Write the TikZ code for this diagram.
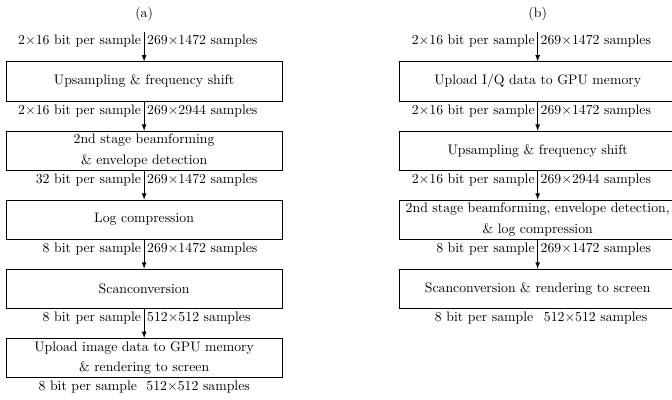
\documentclass[tikz,border=0pt]{standalone}
\usepackage{tikz}
\usetikzlibrary{arrows, positioning}

\begin{document}
\begin{tikzpicture}[
    stage/.style={draw, semithick, rectangle, minimum width=7.05cm, minimum height=1.0cm, align=center, inner sep=0pt},
    info/.style={inner sep=2pt},
    flow/.style={-latex, semithick}]
  \useasboundingbox (0,0) rectangle (17.16,-10.19);

  % (a) pipeline
  \node (tita) at (3.68,-0.36) {(a)};
  \coordinate (ina) at (3.68,-0.82);
  \node[stage] (a1) at (3.68,-2.08) {Upsampling \& frequency shift};
  \node[stage] (a2) at (3.68,-3.85) {2nd stage beamforming\\[3pt] \& envelope detection};
  \node[stage] (a3) at (3.68,-5.61) {Log compression};
  \node[stage] (a4) at (3.68,-7.37) {Scanconversion};
  \node[stage] (a5) at (3.68,-9.14) {Upload image data to GPU memory\\[3pt] \& rendering to screen};

  \draw[flow] (ina) -- (a1);
  \draw[flow] (a1) -- (a2);
  \draw[flow] (a2) -- (a3);
  \draw[flow] (a3) -- (a4);
  \draw[flow] (a4) -- (a5);

  \node[info, anchor=north east] (ia0l) at (ina) {2$\times$16 bit per sample};
  \node[info, anchor=north west] (ia0r) at (ina) {269$\times$1472 samples};
  \node[info, anchor=north east] (ia1l) at (a1.south) {2$\times$16 bit per sample};
  \node[info, anchor=north west] (ia1r) at (a1.south) {269$\times$2944 samples};
  \node[info, anchor=north east] (ia2l) at (a2.south) {32 bit per sample};
  \node[info, anchor=north west] (ia2r) at (a2.south) {269$\times$1472 samples};
  \node[info, anchor=north east] (ia3l) at (a3.south) {8 bit per sample};
  \node[info, anchor=north west] (ia3r) at (a3.south) {269$\times$1472 samples};
  \node[info, anchor=north east] (ia4l) at (a4.south) {8 bit per sample};
  \node[info, anchor=north west] (ia4r) at (a4.south) {512$\times$512 samples};
  % output of the last stage, no arrow
  \node[info, anchor=north east, xshift=-3pt] (ia5l) at (a5.south) {8 bit per sample};
  \node[info, anchor=north west, xshift=-0.5pt] (ia5r) at (a5.south) {512$\times$512 samples};

  % (b) pipeline
  \node (titb) at (13.73,-0.36) {(b)};
  \coordinate (inb) at (13.73,-0.82);
  \node[stage] (b1) at (13.73,-2.08) {Upload I/Q data to GPU memory};
  \node[stage] (b2) at (13.73,-3.85) {Upsampling \& frequency shift};
  \node[stage] (b3) at (13.73,-5.61) {2nd stage beamforming, envelope detection,\\[3pt] \& log compression};
  \node[stage] (b4) at (13.73,-7.37) {Scanconversion \& rendering to screen};

  \draw[flow] (inb) -- (b1);
  \draw[flow] (b1) -- (b2);
  \draw[flow] (b2) -- (b3);
  \draw[flow] (b3) -- (b4);

  \node[info, anchor=north east] (ib0l) at (inb) {2$\times$16 bit per sample};
  \node[info, anchor=north west] (ib0r) at (inb) {269$\times$1472 samples};
  \node[info, anchor=north east] (ib1l) at (b1.south) {2$\times$16 bit per sample};
  \node[info, anchor=north west] (ib1r) at (b1.south) {269$\times$1472 samples};
  \node[info, anchor=north east] (ib2l) at (b2.south) {2$\times$16 bit per sample};
  \node[info, anchor=north west] (ib2r) at (b2.south) {269$\times$2944 samples};
  \node[info, anchor=north east] (ib3l) at (b3.south) {8 bit per sample};
  \node[info, anchor=north west] (ib3r) at (b3.south) {269$\times$1472 samples};
  \node[info, anchor=north east, xshift=-1pt] (ib4l) at (b4.south) {8 bit per sample};
  \node[info, anchor=north west, xshift=2.3pt] (ib4r) at (b4.south) {512$\times$512 samples};
\end{tikzpicture}
\end{document}
